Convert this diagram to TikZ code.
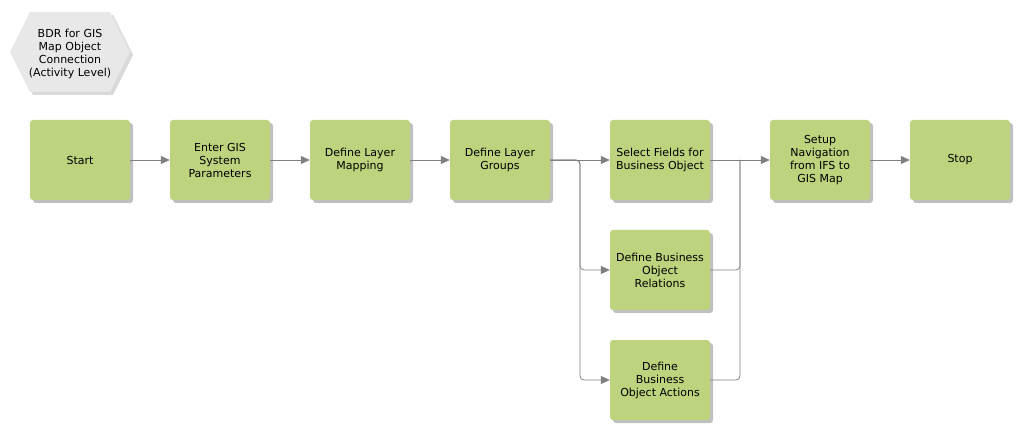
\documentclass[tikz,border=0pt]{standalone}
\usepackage{fontspec}
\setmainfont{DejaVu Sans}
\usetikzlibrary{shadows,arrows.meta,shapes.geometric}
\definecolor{boxgreen}{HTML}{BDD37D}
\definecolor{hexgray}{HTML}{E8E8E8}
\definecolor{linegray}{HTML}{808080}
\begin{document}
\begin{tikzpicture}[x=1pt,y=-1pt,
  stepbox/.style={draw=none,fill=boxgreen,rounded corners=3pt,minimum width=100pt,minimum height=80pt,
    align=center,font=\fontsize{11}{13}\selectfont,inner sep=2pt,
    drop shadow={shadow xshift=3pt,shadow yshift=-3pt,fill=black,opacity=0.25}},
  conn/.style={draw=linegray,line width=0.8pt,-{Triangle[length=9pt,width=8pt]},rounded corners=4pt},
  plain/.style={draw=linegray,line width=0.8pt,rounded corners=4pt}]
\useasboundingbox (0,0) rectangle (1020,430);
% hexagon
\fill[black,opacity=0.15] (13,55) -- (33,15) -- (113,15) -- (133,55) -- (113,95) -- (33,95) -- cycle;
\fill[hexgray] (10,52) -- (30,12) -- (110,12) -- (130,52) -- (110,92) -- (30,92) -- cycle;
\node[align=center,font=\fontsize{11}{13}\selectfont] (title) at (70,54) {BDR for GIS\\Map Object\\Connection\\(Activity Level)};
% boxes
\node[stepbox] (start) at (80,160) {Start};
\node[stepbox] (enter) at (220,160) {Enter GIS\\System\\Parameters};
\node[stepbox] (mapping) at (360,160) {Define Layer\\Mapping};
\node[stepbox] (groups) at (500,160) {Define Layer\\Groups};
\node[stepbox] (fields) at (660,160) {Select Fields for\\Business Object};
\node[stepbox] (relations) at (660,270) {Define Business\\Object\\Relations};
\node[stepbox] (actions) at (660,380) {Define\\Business\\Object Actions};
\node[stepbox] (setup) at (820,160) {Setup\\Navigation\\from IFS to\\GIS Map};
\node[stepbox] (stop) at (960,160) {Stop};
\coordinate (split) at (580,160);
\coordinate (join) at (740,160);
% connectors
\draw[conn] (start) -- (enter);
\draw[conn] (enter) -- (mapping);
\draw[conn] (mapping) -- (groups);
\draw[conn] (groups) -- (fields);
\draw[conn] (groups.east) -| (split |- relations.west) -- (relations.west);
\draw[conn] (groups.east) -| (split |- actions.west) -- (actions.west);
\draw[conn] (fields) -- (setup);
\draw[plain] (relations.east) -| (join);
\draw[plain] (actions.east) -| (join);
\draw[conn] (setup) -- (stop);
\end{tikzpicture}
\end{document}
